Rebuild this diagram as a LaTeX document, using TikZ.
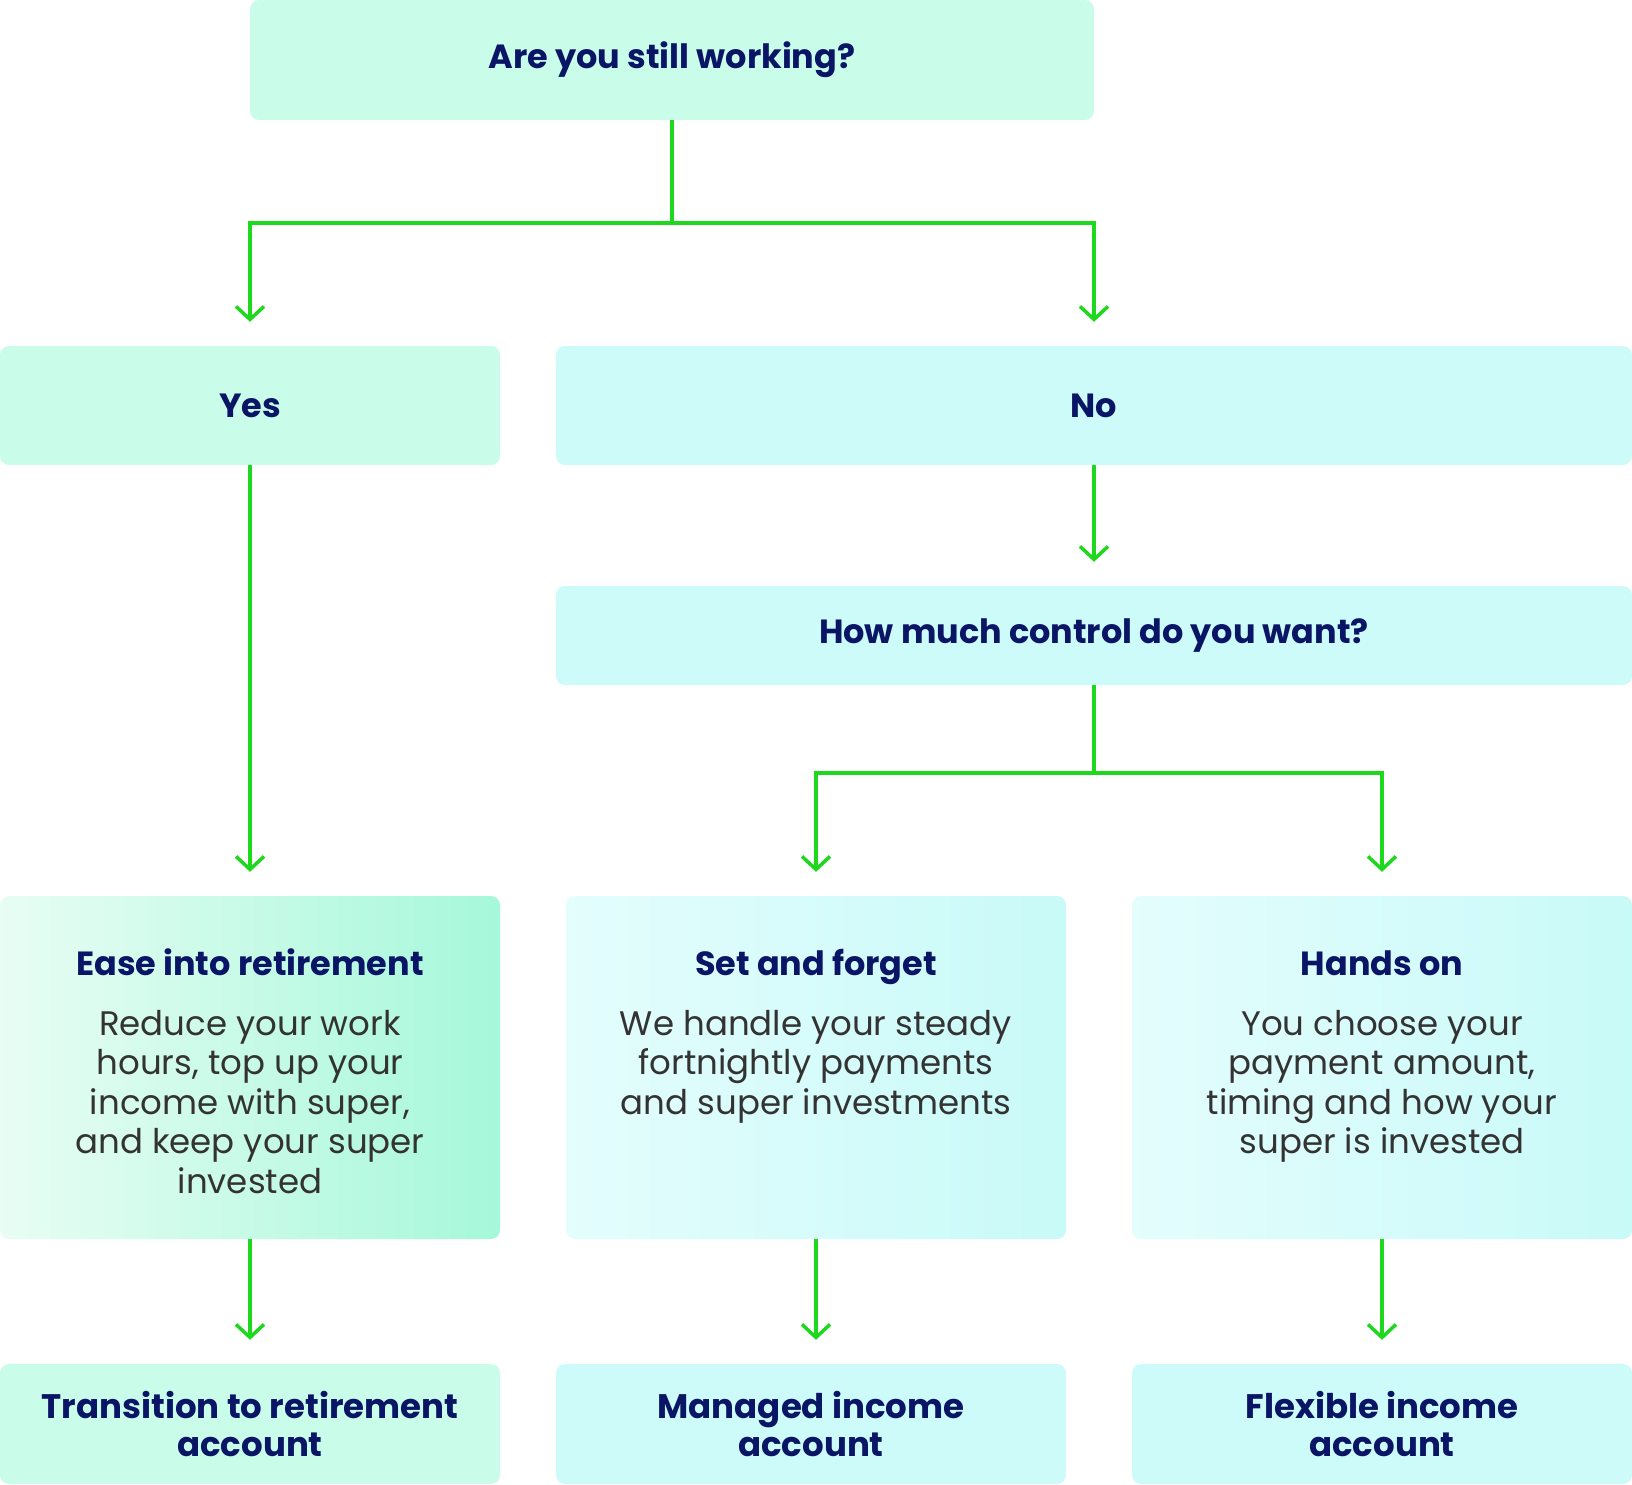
\documentclass[tikz,border=0pt]{standalone}
\usepackage{fontspec}
\setmainfont{Poppins}
\usetikzlibrary{positioning,arrows.meta}
\definecolor{navy}{HTML}{0B1566}
\definecolor{bodytext}{HTML}{333333}
\definecolor{flowgreen}{HTML}{1ED81E}
\definecolor{mint}{HTML}{C9FCE9}
\definecolor{aqua}{HTML}{CCFBF9}
\definecolor{mintpale}{HTML}{E8FDF4}
\definecolor{mintdeep}{HTML}{A6F8DA}
\definecolor{aquapale}{HTML}{E4FDFD}
\definecolor{aquadeep}{HTML}{C8FAF8}

\begin{document}
\begin{tikzpicture}[x=1pt,y=-1pt,
  box/.style={rounded corners=9pt,inner sep=0pt,align=center,text=navy,
              font=\fontsize{33.5}{38}\selectfont\bfseries},
  greenbox/.style={box,fill=mint},
  aquabox/.style={box,fill=aqua},
  endbox/.style={font=\fontsize{34}{38.5}\selectfont\bfseries},
  title/.style={text=navy,font=\fontsize{33.5}{38}\selectfont\bfseries,inner sep=0pt,anchor=base},
  body/.style={text=bodytext,align=center,font=\fontsize{34}{39.6}\selectfont,inner sep=0pt,anchor=north},
  flow/.style={draw=flowgreen,line width=3.5pt,shorten >=24pt,
               -{Straight Barb[length=13pt,width=28pt,line width=3.5pt]}}]
\useasboundingbox (0,0) rectangle (1632,1484);

% questions
\node[greenbox,minimum width=844pt,minimum height=120pt] (work) at (672,60) {Are you still working?};
\node[greenbox,minimum width=500pt,minimum height=119pt] (yes) at (250,405.5) {Yes};
\node[aquabox,minimum width=1076pt,minimum height=119pt] (no) at (1094,405.5) {No};
\node[aquabox,minimum width=1076pt,minimum height=99pt] (control) at (1094,635.5) {How much control do you want?};

% options
\node[box,left color=mintpale,right color=mintdeep,minimum width=500pt,minimum height=343pt] (ease) at (250,1067.5) {};
\node[box,left color=aquapale,right color=aquadeep,minimum width=500pt,minimum height=343pt] (setforget) at (816,1067.5) {};
\node[box,left color=aquapale,right color=aquadeep,minimum width=500pt,minimum height=343pt] (handson) at (1382,1067.5) {};
\node[title] at ([yshift=-80pt]ease.north) {Ease into retirement};
\node[body] at ([yshift=-114pt]ease.north) {Reduce your work\\hours, top up your\\income with super,\\and keep your super\\invested};
\node[title] at ([yshift=-80pt]setforget.north) {Set and forget};
\node[body] at ([yshift=-114pt]setforget.north) {We handle your steady\\fortnightly payments\\and super investments};
\node[title] at ([yshift=-80pt]handson.north) {Hands on};
\node[body] at ([yshift=-114pt]handson.north) {You choose your\\payment amount,\\timing and how your\\super is invested};

% accounts
\node[greenbox,endbox,minimum width=500pt,minimum height=120pt] (ttr) at (250,1424) {Transition to retirement\\account};
\node[aquabox,endbox,minimum width=510pt,minimum height=120pt] (managed) at (811,1424) {Managed income\\account};
\node[aquabox,endbox,minimum width=500pt,minimum height=120pt] (flexible) at (1382,1424) {Flexible income\\account};

\draw[flow] (work.south) -- ++(0,103) -| (yes.north);
\draw[flow] (work.south) -- ++(0,103) -| (no.north);
\draw[flow] (yes.south) -- (ease.north);
\draw[flow] (no.south) -- (control.north);
\draw[flow] (control.south) -- ++(0,88) -| (setforget.north);
\draw[flow] (control.south) -- ++(0,88) -| (handson.north);
\draw[flow] (ease.south) -- (ease.south |- ttr.north);
\draw[flow] (setforget.south) -- (setforget.south |- managed.north);
\draw[flow] (handson.south) -- (handson.south |- flexible.north);
\end{tikzpicture}
\end{document}
